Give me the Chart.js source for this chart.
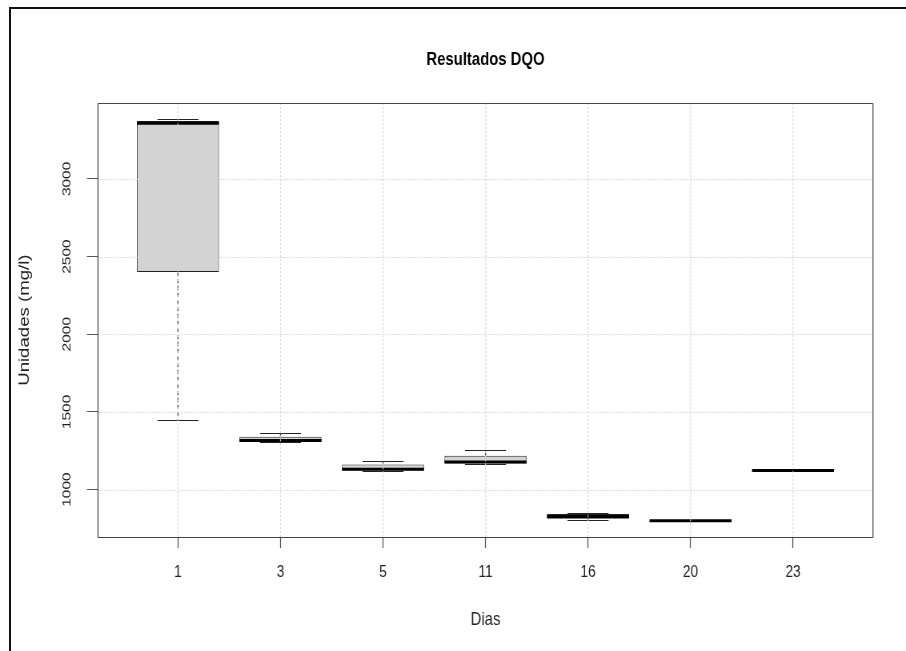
<!DOCTYPE html>
<html>
<head>
<meta charset="utf-8">
<title>Resultados DQO</title>
<script src="https://cdn.jsdelivr.net/npm/chart.js@4"></script>
<style>
  html, body { margin: 0; padding: 0; background: #fff; overflow: hidden; width: 906px; height: 651px; }
  #wrap { position: relative; width: 906px; height: 651px; overflow: hidden; }
  /* the reference is a horizontally squeezed R plot, so the canvas is drawn wider and squeezed */
  #dqoChart { position: absolute; left: 0; top: 0; transform-origin: 0 0; }
  #frame {
    position: absolute; left: 9px; top: 7px; width: 1000px; height: 1000px;
    border-left: 2px solid #111; border-top: 2px solid #111;
    pointer-events: none;
  }
</style>
</head>
<body>
<div id="wrap">
  <canvas id="dqoChart" width="1132" height="651"></canvas>
  <div id="frame"></div>
</div>
<script>
'use strict';

// --- data (mg/l) ---
const dias    = ['1', '3', '5', '11', '16', '20', '23'];
const minimo  = [1448, 1306, 1121, 1166, 805, 798, 1122];
const q1      = [2400, 1308, 1123, 1168, 812, 798, 1122];
const mediana = [3358, 1316, 1131, 1177, 826, 799, 1123];
const q3      = [3372, 1340, 1162, 1218, 842, 800, 1124];
const maximo  = [3383, 1362, 1184, 1254, 852, 801, 1125];
const yTicks  = [1000, 1500, 2000, 2500, 3000];

const SQUEEZE = 906 / 1132;
const FONT = 'Liberation Sans, Arial, sans-serif';
const TEXT = '#222';

const canvas = document.getElementById('dqoChart');
canvas.style.transform = `scaleX(${SQUEEZE})`;

// R style axis limits: data range stretched by 4% on each side
const lo = Math.min(...minimo), hi = Math.max(...maximo);
const yMin = lo - 0.04 * (hi - lo);
const yMax = hi + 0.04 * (hi - lo);
const xMin = 0.5 - 0.04 * dias.length;
const xMax = dias.length + 0.5 + 0.04 * dias.length;

// whiskers, staples, medians, grid and frame, drawn through the chart scales
const boxPlot = {
  id: 'boxPlot',
  afterDatasetsDraw(chart) {
    const { ctx, chartArea: a, scales: { x, y } } = chart;
    const bars = chart.getDatasetMeta(0).data;
    const vw = 1 / SQUEEZE; // keeps vertical strokes ~1px after the squeeze
    const seg = (x1, y1, x2, y2) => {
      ctx.beginPath(); ctx.moveTo(x1, y1); ctx.lineTo(x2, y2); ctx.stroke();
    };
    ctx.save();
    bars.forEach((bar, i) => {
      const cx = x.getPixelForValue(i + 1);
      const half = bar.width / 2;
      const yHi = Math.round(y.getPixelForValue(maximo[i])) + 0.5;
      const yLo = Math.round(y.getPixelForValue(minimo[i])) + 0.5;
      ctx.strokeStyle = '#222';
      ctx.lineWidth = vw;
      ctx.setLineDash([4, 3]);
      seg(cx, y.getPixelForValue(q3[i]), cx, yHi);
      seg(cx, y.getPixelForValue(q1[i]), cx, yLo);
      ctx.setLineDash([]);
      ctx.lineWidth = 1;
      seg(cx - half / 2, yHi, cx + half / 2, yHi);
      seg(cx - half / 2, yLo, cx + half / 2, yLo);
      ctx.strokeStyle = '#000';
      ctx.lineWidth = 3;
      const ym = y.getPixelForValue(mediana[i]);
      seg(cx - half, ym, cx + half, ym);
    });

    // grid goes on top, like grid() after boxplot() in R
    ctx.strokeStyle = '#d3d3d3';
    ctx.setLineDash([2, 2]);
    ctx.lineWidth = vw;
    x.ticks.forEach(t => {
      const px = x.getPixelForValue(t.value);
      seg(px, a.top, px, a.bottom);
    });
    ctx.lineWidth = 1;
    y.ticks.forEach(t => {
      const py = Math.round(y.getPixelForValue(t.value)) + 0.5;
      seg(a.left, py, a.right, py);
    });
    ctx.setLineDash([]);

    // plot frame
    const top = Math.round(a.top) + 0.5, bottom = Math.round(a.bottom) + 0.5;
    ctx.strokeStyle = '#444';
    ctx.lineWidth = 1;
    seg(a.left, top, a.right, top);
    seg(a.left, bottom, a.right, bottom);
    ctx.lineWidth = vw;
    seg(a.left, top, a.left, bottom);
    seg(a.right, top, a.right, bottom);
    ctx.restore();
  }
};

new Chart(canvas, {
  type: 'bar',
  data: {
    datasets: [{
      data: dias.map((d, i) => ({ x: i + 1, y: [q1[i], q3[i]] })),
      backgroundColor: '#d3d3d3',
      borderColor: '#222',
      borderWidth: 1,
      borderSkipped: false,
      barPercentage: 0.8,
      categoryPercentage: 1
    }]
  },
  options: {
    responsive: false,
    animation: false,
    layout: { padding: { left: 0, right: 1132 - 873 / SQUEEZE, top: 0, bottom: 0 } },
    plugins: {
      legend: { display: false },
      tooltip: { enabled: false },
      title: {
        display: true,
        fullSize: false,
        text: 'Resultados DQO',
        color: '#000',
        font: { family: FONT, size: 18.6, weight: 'bold' },
        padding: { top: 49, bottom: 32 }
      }
    },
    scales: {
      x: {
        type: 'linear',
        min: xMin, max: xMax,
        offset: false,
        afterBuildTicks: s => { s.ticks = dias.map((d, i) => ({ value: i + 1 })); },
        afterFit: s => { s.height = 114; },
        ticks: {
          callback: v => dias[v - 1],
          autoSkip: false, maxRotation: 0,
          padding: 14,
          color: TEXT,
          font: { family: FONT, size: 17 }
        },
        grid: { drawOnChartArea: false, offset: false, tickLength: 11, tickColor: '#555', tickWidth: 1 / SQUEEZE },
        border: { display: false },
        title: {
          display: true, text: 'Dias', color: TEXT,
          font: { family: FONT, size: 18.6 },
          padding: { top: 0, bottom: 20 }
        }
      },
      y: {
        min: yMin, max: yMax,
        afterBuildTicks: s => { s.ticks = yTicks.map(v => ({ value: v })); },
        afterFit: s => { s.width = 98 / SQUEEZE; },
        ticks: {
          callback: v => String(v),
          minRotation: 90, maxRotation: 90,
          crossAlign: 'center',
          padding: 8,
          color: TEXT,
          font: { family: FONT, size: 15.5 }
        },
        grid: { drawOnChartArea: false, tickLength: 11 / SQUEEZE, tickColor: '#555', tickWidth: 1 },
        border: { display: false },
        title: {
          display: true, text: 'Unidades (mg/l)', color: TEXT,
          font: { family: FONT, size: 18.6 },
          padding: { top: 20, bottom: 0 }
        }
      }
    }
  },
  plugins: [boxPlot]
});
</script>
</body>
</html>
